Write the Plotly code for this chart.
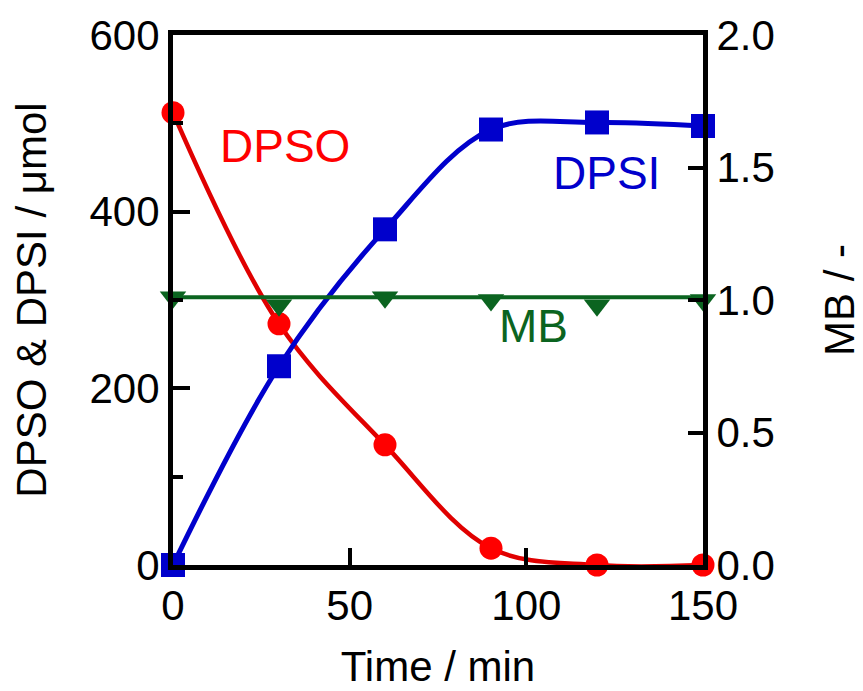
import plotly.graph_objects as go

time_min = [0, 30, 60, 90, 120, 150]
dpso = [512, 273, 136, 19, 0, 0]
dpsi = [0, 225, 380, 493, 501, 497]
mb = [1.01, 0.98, 1.01, 1.00, 0.98, 1.00]
mb_avg_x = [0, 150]
mb_avg = [1.01, 1.01]

x_ticks = [0, 50, 100, 150]
y_ticks = [0, 200, 400, 600]
y2_ticks = [0.0, 0.5, 1.0, 1.5, 2.0]

RED_M = "#ff0000"
RED_L = "#e00000"
BLUE = "#0000cc"
GREEN = "#0b6420"
FONT = "Liberation Sans, Arial, sans-serif"

fig = go.Figure()
# fitted curves (clipped)
fig.add_trace(go.Scatter(x=time_min, y=dpso, mode="lines", line=dict(color=RED_L, width=4.5, shape="spline", smoothing=1.0), showlegend=False, hoverinfo="skip"))
fig.add_trace(go.Scatter(x=time_min, y=dpsi, mode="lines", line=dict(color=BLUE, width=5, shape="spline", smoothing=1.0), showlegend=False, hoverinfo="skip"))
# markers (unclipped)
fig.add_trace(go.Scatter(x=time_min, y=dpso, mode="markers", name="DPSO", marker=dict(symbol="circle", size=23, color=RED_M), cliponaxis=False, showlegend=False))
fig.add_trace(go.Scatter(x=time_min, y=dpsi, mode="markers", name="DPSI", marker=dict(symbol="square", size=24, color=BLUE), cliponaxis=False, showlegend=False))
fig.add_trace(go.Scatter(x=mb_avg_x, y=mb_avg, mode="lines", yaxis="y2", line=dict(color=GREEN, width=4), showlegend=False, hoverinfo="skip"))
fig.add_trace(go.Scatter(x=time_min, y=mb, mode="markers", name="MB", yaxis="y2", marker=dict(symbol="triangle-down", size=23, color=GREEN), cliponaxis=False, showlegend=False))

axis_common = dict(showline=True, linecolor="black", linewidth=5, ticks="inside", tickcolor="black", tickwidth=4, showgrid=False, zeroline=False, automargin=False, tickfont=dict(family=FONT, size=42, color="black"))

fig.update_layout(
    width=863, height=691,
    margin=dict(l=173, r=160, t=35, b=126),
    plot_bgcolor="white", paper_bgcolor="white",
    font=dict(family=FONT, size=42, color="black"),
    xaxis=dict(range=[0, 150], tickvals=x_ticks, ticklen=17, mirror=True,
               title=dict(text="Time / min", font=dict(family=FONT, size=42), standoff=25), **axis_common),
    yaxis=dict(range=[0, 600], tickvals=y_ticks, ticklen=17,
               minor=dict(dtick=100, ticks="inside", ticklen=10, tickwidth=4, tickcolor="black"),
               title=dict(text="DPSO & DPSI / μmol", font=dict(family=FONT, size=42), standoff=31), **axis_common),
    yaxis2=dict(range=[0, 2.0], tickvals=y2_ticks, tickformat=".1f", ticklen=15, overlaying="y", side="right",
                title=dict(text="MB / -", font=dict(family=FONT, size=42), standoff=52), **axis_common),
    annotations=[
        dict(x=0.211, y=0.79, xref="paper", yref="paper", xanchor="center", yanchor="middle", text="DPSO", showarrow=False, font=dict(family=FONT, size=46, color=RED_M)),
        dict(x=0.817, y=0.74, xref="paper", yref="paper", xanchor="center", yanchor="middle", text="DPSI", showarrow=False, font=dict(family=FONT, size=46, color=BLUE)),
        dict(x=0.68, y=0.451, xref="paper", yref="paper", xanchor="center", yanchor="middle", text="MB", showarrow=False, font=dict(family=FONT, size=46, color=GREEN)),
    ],
)

fig.write_html("out.html")
